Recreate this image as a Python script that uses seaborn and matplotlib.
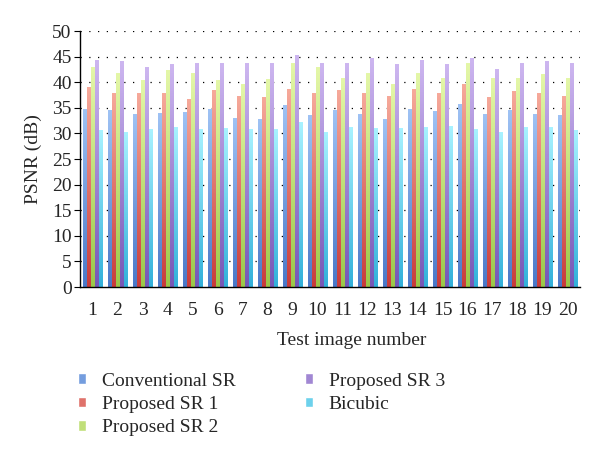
import numpy as np
import pandas as pd
import matplotlib
matplotlib.use("Agg")
import matplotlib.pyplot as plt
import seaborn as sns
from matplotlib.colors import LinearSegmentedColormap
from matplotlib.patches import Patch

# Values
images = [str(i) for i in range(1, 21)]
methods = ["Conventional SR", "Proposed SR 1", "Proposed SR 2", "Proposed SR 3", "Bicubic"]

conventional = [34.7, 34.4, 33.6, 33.9, 34.1, 34.6, 33.0, 32.7, 35.4, 33.4,
                34.4, 33.6, 32.7, 34.7, 34.2, 35.7, 33.6, 34.4, 33.6, 33.4]
proposed1 = [39.0, 37.7, 37.7, 37.8, 36.7, 38.3, 37.2, 37.1, 38.6, 37.7,
             38.3, 37.7, 37.2, 38.6, 37.7, 39.5, 37.0, 38.2, 37.7, 37.2]
proposed2 = [42.9, 41.7, 40.3, 42.3, 41.7, 40.3, 39.6, 40.6, 43.6, 42.9,
             40.7, 41.7, 39.6, 41.7, 40.8, 43.6, 40.8, 40.8, 41.6, 40.8]
proposed3 = [44.2, 44.0, 42.9, 43.5, 43.6, 43.6, 43.6, 43.6, 45.3, 43.6,
             43.6, 44.6, 43.5, 44.2, 43.5, 44.6, 42.4, 43.7, 44.0, 43.6]
bicubic = [30.5, 30.2, 30.7, 31.2, 30.7, 30.9, 30.7, 30.7, 32.2, 30.2,
           31.2, 30.9, 30.9, 31.2, 31.3, 30.7, 30.2, 31.1, 31.1, 30.5]

# top / bottom colours of the gradient fill for each series
grad = {
    "Conventional SR": ("#9fc2f4", "#4a78c8"),
    "Proposed SR 1": ("#f6a99a", "#c83c3c"),
    "Proposed SR 2": ("#e4f7a8", "#9cc84a"),
    "Proposed SR 3": ("#cdb6f0", "#7658b6"),
    "Bicubic": ("#a8f2ff", "#32b0da"),
}

df = pd.DataFrame({
    "image": images * 5,
    "method": np.repeat(methods, 20),
    "psnr": conventional + proposed1 + proposed2 + proposed3 + bicubic,
})

sns.set_style("white")
plt.rcParams["font.family"] = ["Liberation Serif", "DejaVu Serif"]

fig = plt.figure(figsize=(6, 4.62), dpi=100)
ax = fig.add_axes([80 / 600, 1 - 287 / 462, 500 / 600, 256 / 462])

mid = {m: sns.blend_palette(list(grad[m]), 3)[1] for m in methods}
sns.barplot(data=df, x="image", y="psnr", hue="method", hue_order=methods,
            order=images, palette=mid, width=0.8, legend=False, ax=ax, zorder=2)

# replace the flat fills with a vertical gradient
g = np.linspace(0, 1, 100).reshape(-1, 1)
for m, cont in zip(methods, ax.containers):
    cmap = LinearSegmentedColormap.from_list(m, [grad[m][1], grad[m][0]])
    for bar in cont:
        x0, y0 = bar.get_x(), bar.get_y()
        w, h = bar.get_width(), bar.get_height()
        bar.set_facecolor("none")
        bar.set_edgecolor("none")
        ax.imshow(g, cmap=cmap, extent=[x0, x0 + w, y0, y0 + h], origin="lower",
                  aspect="auto", zorder=2)

ax.set_xlim(-0.5, 19.5)
ax.set_ylim(0, 50)
ax.set_yticks(range(0, 51, 5))
for yv in range(5, 51, 5):
    ax.axhline(yv, color="black", lw=0.9, ls=(0, (1, 6)), zorder=1)

for s in ["top", "right"]:
    ax.spines[s].set_visible(False)
for s in ["left", "bottom"]:
    ax.spines[s].set_color("black")
    ax.spines[s].set_linewidth(1.0)

ax.set_xticks(np.arange(-0.5, 20, 1), minor=True)
ax.tick_params(axis="x", which="major", length=0, labelsize=14, pad=11)
ax.tick_params(axis="x", which="minor", length=4, color="black", direction="out")
ax.tick_params(axis="y", length=4, color="black", direction="out", left=True, labelsize=14, pad=2)

ax.set_xlabel("Test image number", fontsize=14)
ax.xaxis.set_label_coords(0.544, -0.175)
ax.set_ylabel("PSNR (dB)", fontsize=14)
ax.yaxis.set_label_coords(-0.076, 0.5)

handles = [Patch(facecolor=mid[m], label=m) for m in methods]
fig.legend(handles=handles, loc="upper left", bbox_to_anchor=(60 / 600, 1 - 355 / 462),
           ncol=2, frameon=False, fontsize=14, handlelength=0.45, handleheight=0.45,
           handletextpad=0.8, labelspacing=0.33, columnspacing=3.55)

fig.savefig("out.png", dpi=100)
